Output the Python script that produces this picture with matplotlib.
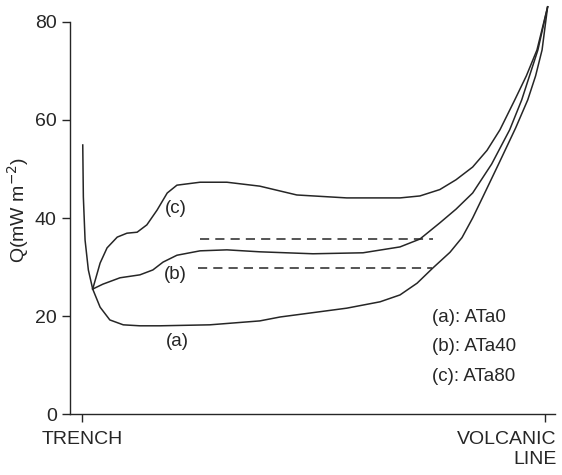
import matplotlib
matplotlib.use("Agg")
import matplotlib.pyplot as plt
import matplotlib.transforms as mtransforms

plt.rcParams['font.family'] = ['Liberation Sans', 'DejaVu Sans']

# common steep drop near the trench
trench_x = [0.15, 0.28, 0.65, 1.36, 2.3]
trench_y = [54.9, 44.3, 35.5, 29.4, 25.5]

# (a) ATa0
a_x = [3.9, 6.0, 8.9, 12.5, 16.8, 27.6, 38.4, 42.8, 57.2, 64.4, 68.7, 72.4, 75.8, 79.5, 82.1, 84.4, 86.6, 90.0, 93.7, 96.3, 98.0, 99.4, 100.6]
a_y = [21.8, 19.2, 18.2, 18.0, 18.0, 18.2, 19.0, 19.8, 21.6, 22.9, 24.3, 26.7, 29.8, 33.0, 36.0, 40.0, 44.3, 51.0, 58.4, 64.1, 69.0, 74.3, 83.1]

# (b) ATa40
b_x = [4.5, 8.2, 12.5, 15.3, 17.5, 20.5, 25.5, 31.3, 38.4, 49.9, 60.7, 68.7, 73.0, 77.3, 80.8, 84.4, 88.5, 92.4, 95.0, 98.5, 100.6]
b_y = [26.5, 27.8, 28.4, 29.4, 31.0, 32.4, 33.3, 33.5, 33.1, 32.7, 32.9, 34.1, 35.7, 39.0, 41.8, 45.1, 51.0, 58.0, 64.1, 74.3, 83.1]

# (c) ATa80
c_x = [3.9, 5.4, 7.6, 9.7, 11.9, 14.0, 16.2, 18.4, 20.5, 25.5, 31.3, 38.4, 46.4, 57.2, 68.7, 73.0, 77.3, 80.8, 84.4, 87.5, 90.3, 93.5, 96.0, 98.3, 100.6]
c_y = [30.8, 33.9, 36.1, 36.9, 37.1, 38.6, 41.6, 45.1, 46.7, 47.3, 47.3, 46.5, 44.7, 44.1, 44.1, 44.5, 45.8, 47.8, 50.4, 53.8, 58.0, 64.1, 69.0, 74.3, 83.1]

# dashed reference levels
dash_levels = [35.7, 29.8]
dash_start = [25.5, 25.1]
dash_end = [75.8, 75.6]

curve_labels = ['(a)', '(b)', '(c)']
label_pos = [(20.5, 14.7), (20.1, 28.4), (20.3, 42.0)]
legend_lines = ['(a): ATa0', '(b): ATa40', '(c): ATa80']
legend_y = [19.6, 13.7, 7.6]

ink = '#262626'

fig = plt.figure(figsize=(5.62, 4.75), dpi=100)
ax = fig.add_axes([0.1246, 0.1284, 0.863, 0.8253])

ax.plot(trench_x, trench_y, color=ink, lw=1.1, clip_on=False)
for xs, ys in [(a_x, a_y), (b_x, b_y), (c_x, c_y)]:
    ax.plot([trench_x[-1]] + xs, [trench_y[-1]] + ys, color=ink, lw=1.1, clip_on=False)

for lv, x0, x1 in zip(dash_levels, dash_start, dash_end):
    ax.plot([x0, x1], [lv, lv], color=ink, lw=1.1, dashes=(6, 4))

for lab, (x, y) in zip(curve_labels, label_pos):
    ax.text(x, y, lab, ha='center', va='center', fontsize=13.5, color=ink)

for t, y in zip(legend_lines, legend_y):
    ax.text(75.6, y, t, ha='left', va='center', fontsize=13.5, color=ink)

ax.set_xlim(-2.6, 102.2)
ax.set_ylim(0, 80)
ax.set_yticks([0, 20, 40, 60, 80])
ax.set_xticks([0, 100])
ax.set_xticklabels(['TRENCH', 'VOLCANIC\nLINE'])
ax.tick_params(axis='both', labelsize=14, colors=ink, length=5.5, width=1.0)
ax.tick_params(axis='x', pad=7)
ax.tick_params(axis='y', pad=4)

lbl = ax.get_xticklabels()[1]
lbl.set_horizontalalignment('right')
lbl.set_multialignment('right')
lbl.set_transform(lbl.get_transform() + mtransforms.ScaledTranslation(12 / 100, 0, fig.dpi_scale_trans))

ax.set_ylabel('Q(mW m$^{-2}$)', fontsize=14, color=ink, va='center')
ax.yaxis.set_label_coords(-0.107, 0.52)

for s in ['top', 'right']:
    ax.spines[s].set_visible(False)
for s in ['left', 'bottom']:
    ax.spines[s].set_color(ink)
    ax.spines[s].set_linewidth(1.0)

fig.savefig('out.png', dpi=100)
